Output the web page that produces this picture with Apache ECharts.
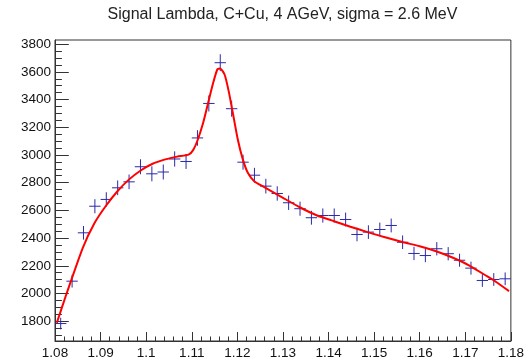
<!DOCTYPE html>
<html>
<head>
<meta charset="utf-8">
<script src="https://cdn.jsdelivr.net/npm/echarts@6/dist/echarts.min.js"></script>
<style>html,body{margin:0;padding:0;background:#fff;}#c{width:527px;height:360px;}</style>
</head>
<body>
<div id="c"></div>
<script>
const titleText = 'Signal Lambda, C+Cu, 4 AGeV, sigma = 2.6 MeV';
const binCenters = [1.08125,1.08375,1.08625,1.08875,1.09125,1.09375,1.09625,1.09875,1.10125,1.10375,
  1.10625,1.10875,1.11125,1.11375,1.11625,1.11875,1.12125,1.12375,1.12625,1.12875,
  1.13125,1.13375,1.13625,1.13875,1.14125,1.14375,1.14625,1.14875,1.15125,1.15375,
  1.15625,1.15875,1.16125,1.16375,1.16625,1.16875,1.17125,1.17375,1.17625,1.17875];
const counts = [1783,2089,2438,2630,2679,2763,2806,2915,2864,2877,
  2971,2953,3123,3372,3666,3334,2948,2854,2775,2722,
  2655,2612,2547,2563,2563,2534,2426,2443,2462,2491,
  2370,2289,2274,2323,2287,2240,2183,2094,2101,2106];
const errors = [42,46,49,51,52,53,53,54,54,54,
  55,54,56,58,61,58,54,53,53,52,
  52,51,50,51,51,50,49,49,50,50,
  49,48,48,48,48,47,47,46,46,46];
const binHalfWidth = 0.00125;
const fitX = [1.0804,1.0826,1.0861,1.0887,1.0911,1.0937,1.0962,1.0988,1.1013,1.1042,
  1.1068,1.1093,1.1103,1.1113,1.1125,1.1136,1.1147,1.1156,1.1162,1.1172,
  1.1181,1.1190,1.1201,1.1212,1.1223,1.1237,1.1259,1.1303,1.1339,
  1.1375,1.1412,1.1448,1.1484,1.1520,1.1564,1.1600,1.1636,1.1673,1.1709,
  1.1745,1.1767,1.1796];
const fitY = [1788,2005,2330,2510,2630,2738,2822,2888,2935,2968,
  2988,3002,3035,3108,3232,3377,3521,3617,3625,3581,
  3461,3305,3112,2968,2871,2811,2768,2685,2619,
  2563,2522,2482,2445,2409,2370,2341,2305,2258,2202,
  2130,2085,2017];
const yMajorTicks = [1800,2000,2200,2400,2600,2800,3000,3200,3400,3600,3800];
const yMinorTicks = [1700,1750,1850,1900,1950,2050,2100,2150,2250,2300,2350,2450,2500,2550,
  2650,2700,2750,2850,2900,2950,3050,3100,3150,3250,3300,3350,3450,3500,3550,
  3650,3700,3750,3800];

const FONT = 'Liberation Sans, Arial, Helvetica, sans-serif';
const axisColor = '#333';
const markColor = '#2a2aa8';

const chart = echarts.init(document.getElementById('c'), null, {renderer: 'canvas'});
chart.setOption({
  animation: false,
  backgroundColor: '#fff',
  grid: {left: 55, right: 12, top: 40, bottom: 18, show: true, borderColor: axisColor, borderWidth: 1, backgroundColor: 'transparent'},
  graphic: [{
    type: 'text', x: 282.5, y: 15,
    style: {text: titleText, textAlign: 'center', textVerticalAlign: 'middle', font: '16px ' + FONT, fill: '#222'}
  }],
  xAxis: {
    type: 'value', min: 1.08, max: 1.18, interval: 0.01,
    axisLine: {show: true, lineStyle: {color: axisColor}},
    axisTick: {show: true, inside: true, length: 9, lineStyle: {color: axisColor}},
    minorTick: {show: true, splitNumber: 5, length: 4.5, lineStyle: {color: axisColor}},
    splitLine: {show: false},
    axisLabel: {color: '#111', fontSize: 13.5, fontFamily: FONT, margin: 5,
      formatter: v => String(parseFloat(v.toFixed(2))), showMinLabel: true, showMaxLabel: true}
  },
  yAxis: [{
    type: 'value', min: 1657, max: 3830, position: 'left',
    axisLine: {show: true, lineStyle: {color: axisColor}},
    axisTick: {show: true, inside: true, length: 13.8, customValues: yMajorTicks, lineStyle: {color: axisColor}},
    axisLabel: {customValues: yMajorTicks, color: '#111', fontSize: 13.5, fontFamily: FONT, margin: 4,
      formatter: v => String(v)},
    splitLine: {show: false}
  }, {
    type: 'value', min: 1657, max: 3830, position: 'left',
    axisLine: {show: false},
    axisTick: {show: true, inside: true, length: 6.9, customValues: yMinorTicks, lineStyle: {color: axisColor}},
    axisLabel: {show: false},
    splitLine: {show: false}
  }],
  series: [{
    type: 'custom',
    xAxisIndex: 0, yAxisIndex: 0,
    data: binCenters.map((x, i) => [x, counts[i], errors[i]]),
    renderItem: function (params, api) {
      const x = api.value(0), y = api.value(1), e = api.value(2);
      const c = api.coord([x, y]);
      const t = api.coord([x, y + e]);
      const b = api.coord([x, y - e]);
      const l = api.coord([x - binHalfWidth, y]);
      const r = api.coord([x + binHalfWidth, y]);
      const st = {stroke: markColor, lineWidth: 1};
      return {type: 'group', children: [
        {type: 'line', shape: {x1: c[0], y1: t[1], x2: c[0], y2: b[1]}, style: st},
        {type: 'line', shape: {x1: l[0], y1: c[1], x2: r[0], y2: c[1]}, style: st}
      ]};
    },
    z: 2
  }, {
    type: 'line',
    xAxisIndex: 0, yAxisIndex: 0,
    data: fitX.map((x, i) => [x, fitY[i]]),
    smooth: 0.2,
    showSymbol: false,
    lineStyle: {color: '#ff0000', width: 2},
    z: 3
  }]
});
</script>
</body>
</html>
